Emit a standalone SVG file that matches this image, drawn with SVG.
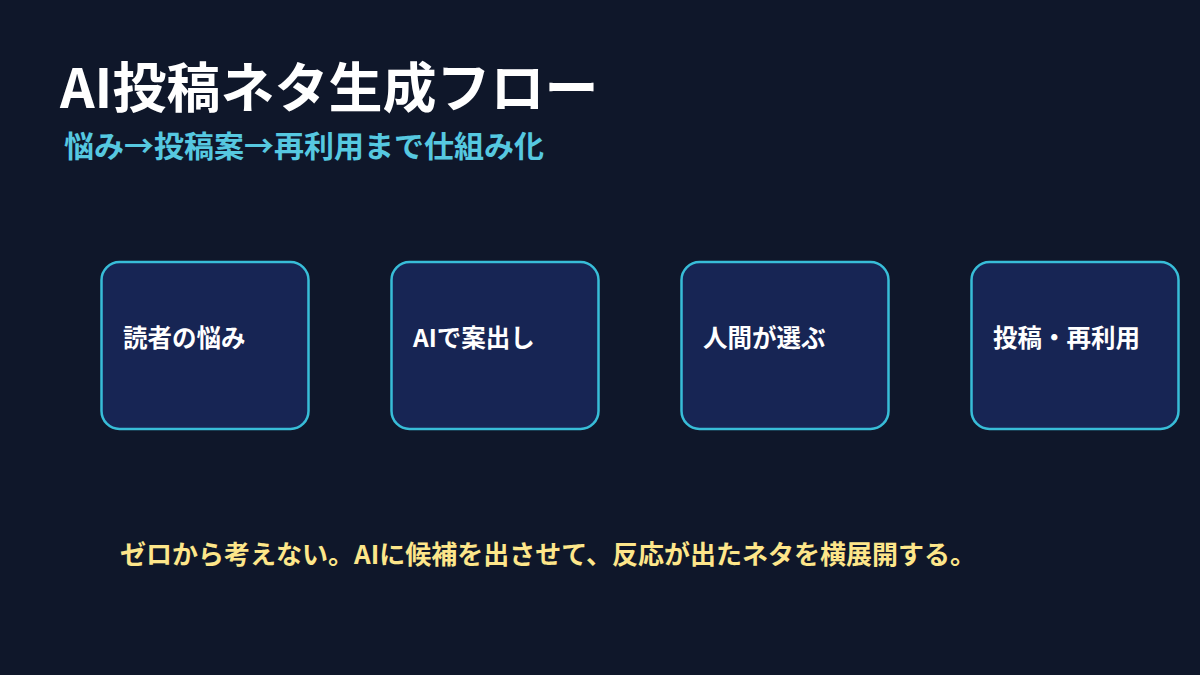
<svg xmlns="http://www.w3.org/2000/svg" width="1200" height="675" viewBox="0 0 1200 675">
<style>
.bg{fill:#0f172a}
.box{fill:#172554;stroke:#38bdd8;stroke-width:2.5}
.t{font-family:"Noto Sans CJK JP","Noto Sans",sans-serif;font-weight:bold}
.lbl{font-size:24.5px;fill:#ffffff}
</style>
<rect class="bg" x="0" y="0" width="1200" height="675"/>
<g id="title"><text class="t" x="60" y="108" font-size="54" fill="#ffffff">AI投稿ネタ生成フロー</text></g>
<g id="subtitle"><text class="t" x="64" y="157" font-size="30" fill="#56c8e0">悩み→投稿案→再利用まで仕組み化</text></g>
<g id="node1"><rect class="box" x="101.5" y="262" width="207" height="167" rx="18"/><text class="t lbl" x="123" y="347">読者の悩み</text></g>
<g id="node2"><rect class="box" x="391.5" y="262" width="207" height="167" rx="18"/><text class="t lbl" x="413" y="347">AIで案出し</text></g>
<g id="node3"><rect class="box" x="681.5" y="262" width="207" height="167" rx="18"/><text class="t lbl" x="703" y="347">人間が選ぶ</text></g>
<g id="node4"><rect class="box" x="971.5" y="262" width="207" height="167" rx="18"/><text class="t lbl" x="993" y="347">投稿・再利用</text></g>
<g id="connectors"></g>
<g id="note"><text class="t" x="120" y="564" font-size="26" fill="#fde68a">ゼロから考えない。AIに候補を出させて、反応が出たネタを横展開する。</text></g>
</svg>
